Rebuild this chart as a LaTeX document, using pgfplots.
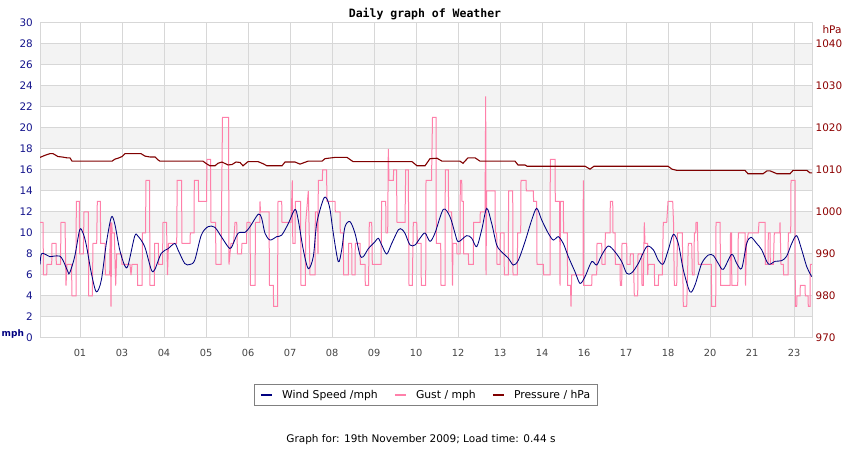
\documentclass[border=0pt]{standalone}
\usepackage{fontspec}
\setmainfont{DejaVu Sans}
\newfontfamily\monofont{DejaVu Sans Mono}
\usepackage{pgfplots}
\pgfplotsset{compat=1.18}
\definecolor{windc}{RGB}{0,0,128}
\definecolor{gustc}{RGB}{255,128,170}
\definecolor{presc}{RGB}{128,0,0}
\definecolor{gridc}{RGB}{215,215,215}
\definecolor{bandc}{RGB}{243,243,243}
\definecolor{ylabc}{RGB}{20,20,140}
\definecolor{rlabc}{RGB}{140,0,0}
\definecolor{xlabc}{RGB}{68,68,68}
\definecolor{legc}{RGB}{128,128,128}
\begin{document}
\begin{tikzpicture}
\begin{axis}[
  set layers,
  at={(40bp,112bp)}, anchor=south west,
  scale only axis, width=772bp, height=315bp,
  xmin=40, xmax=812, ymin=0, ymax=30,
  xtick={80,122,164,206,248,290,332,374,416,458,500,542,584,626,668,710,752,794},
  xticklabels={01,03,04,05,06,07,08,09,10,12,13,14,16,17,18,20,21,23},
  ytick={0,2,...,30},
  yticklabels={0,2,4,6,8,10,12,14,16,18,20,22,24,26,28,30},
  grid=major,
  grid style={color=gridc, line width=1bp},
  axis line style={color=gridc, line width=1bp},
  major tick length=0pt,
  xticklabel style={font=\fontsize{9.8bp}{11bp}\selectfont, text=xlabc, inner sep=0pt, yshift=-11bp},
  yticklabel style={font=\fontsize{10.4bp}{12bp}\selectfont, text=ylabc, inner sep=0pt, xshift=-7bp},
  legend columns=3,
  legend image code/.code={\draw[#1] (0bp,0bp) -- (11bp,0bp);},
  legend style={at={(0.5,-0.181)}, anchor=center, draw=legc, line width=1bp, fill=white,
    inner xsep=5bp, inner ysep=4bp,
    font=\fontsize{10.8bp}{12bp}\selectfont,
    nodes={inner sep=2bp, text depth=0.15em},
    /tikz/every odd column/.append style={column sep=7bp},
    /tikz/every even column/.append style={column sep=14bp}},
]
\addplot[on layer=axis background, fill=bandc, draw=none, forget plot] coordinates {(40,2)(812,2)(812,4)(40,4)};
\addplot[on layer=axis background, fill=bandc, draw=none, forget plot] coordinates {(40,6)(812,6)(812,8)(40,8)};
\addplot[on layer=axis background, fill=bandc, draw=none, forget plot] coordinates {(40,10)(812,10)(812,12)(40,12)};
\addplot[on layer=axis background, fill=bandc, draw=none, forget plot] coordinates {(40,14)(812,14)(812,16)(40,16)};
\addplot[on layer=axis background, fill=bandc, draw=none, forget plot] coordinates {(40,18)(812,18)(812,20)(40,20)};
\addplot[on layer=axis background, fill=bandc, draw=none, forget plot] coordinates {(40,22)(812,22)(812,24)(40,24)};
\addplot[on layer=axis background, fill=bandc, draw=none, forget plot] coordinates {(40,26)(812,26)(812,28)(40,28)};
% Gust
\addplot[gustc, line width=1bp, forget plot] coordinates {
(40,11)(43,11)(43.5,6)(46.7,6)(47,7)(51.7,7)(52,9)(56,9)(56.3,7)(60.5,7)(61,11)(65,11)(66,5)(67,7)(71.5,7)(72,4)(76,4)(76.3,13)(79.3,13)(79.7,8)(83.3,8)(84,12)(88.3,12)(88.7,4)(92.3,4)(93,9)(96.7,9)(97.3,13)(100.3,13)(100.7,9)(105,9)(105.3,6)(109.7,6)(110.3,11)(111,3)(111.7,11)(112.3,10)(114.3,10)(115.7,5)(116.7,8)(121.7,8)(122,7)(130,7)(131,6)(132,7)(137.3,7)(137.7,5)(142,5)(142.5,10)(145.5,10)(146,15)(149.5,15)(150,5)(154.3,5)(154.7,9)(158.3,9)(158.7,7)(162.5,7)(163,11)(166.5,11)(167.5,6)(168.5,9)(176.7,9)(177.2,15)(181.5,15)(182,9)(190,9)(190.3,10)(194,10)(194.3,15)(198.3,15)(198.7,13)(206.5,13)(207,17)(210.5,17)(211,11)(215.5,11)(216,7)(221,7)(222.5,21)(228.5,21)(229,7)(231,9)(233.5,9)(235,11)(236.7,11)(237.5,8)(241.5,8)(242,9)(246.5,9)(247,11)(250,11)(250.5,5)(255,5)(255.5,11)(259.8,11)(260,13)(260.5,12)(269,12)(269.5,5)(273.3,5)(273.6,3)(277.5,3)(278,13)(281.7,13)(282,11)(291,11)(292.3,15)(292.8,9)(295,9)(295.3,13)(300.5,13)(301,5)(305.3,5)(305.7,11)(308.3,14)(309,11)(310,6)(315,6)(315.3,12)(317.5,12)(318,8)(318.3,15)(322.3,15)(322.6,16)(326.5,16)(327,13)(335,13)(335.3,12)(340,12)(340.3,10)(343.3,10)(343.6,6)(348.3,6)(348.6,9)(351.7,9)(352,6)(355,6)(355.3,9)(360,9)(360.3,7)(365,7)(365.3,5)(368.5,5)(369.3,11)(371.7,11)(372.3,7)(381,7)(381.7,13)(385.7,13)(386,10)(387.7,10)(388.3,18)(389,15)(393.3,15)(393.7,16)(396.5,16)(397,11)(405,11)(405.7,16)(408.3,16)(409,5)(412.3,5)(413.3,11)(416.7,11)(417.5,9)(421,9)(421.3,5)(425.7,5)(426,15)(431.5,15)(432.5,21)(436,21)(436.3,9)(440.7,9)(441,5)(445,5)(445.3,16)(448.3,16)(448.6,12)(451.7,12)(452.5,5)(453,9)(456.7,9)(457,8)(460,8)(460.3,15)(461.7,15)(462,13)(463.3,13)(463.6,8)(468.3,8)(468.6,7)(473.3,7)(473.6,11)(480,11)(480.3,12)(485,12)(485.7,23)(486,6)(486.7,14)(495,14)(495.3,10)(496.7,10)(497,7)(500,7)(500.3,10)(504,10)(504.3,6)(508.3,6)(508.6,14)(512.7,14)(513,6)(517.3,6)(517.6,10)(520.7,10)(521,15)(526,15)(526.3,14)(533.3,14)(533.6,13)(536.7,13)(537,7)(543.3,7)(543.6,6)(550,6)(550.3,17)(555,17)(555.3,13)(559.5,13)(560,5)(560.5,13)(563.3,13)(563.6,10)(567.3,10)(567.6,5)(570.5,5)(571,3)(571.7,6)(583,6)(583.3,15)(583.7,5)(591.7,5)(592,6)(596.7,6)(597,9)(601.7,9)(602,7)(605,7)(605.3,10)(610,10)(610.3,13)(612.7,13)(613,10)(615,10)(615.3,7)(620,7)(620.3,5)(621.7,5)(622,9)(626.7,9)(627,7)(630,7)(630.3,8)(633.3,8)(634.3,4)(637.7,4)(638,8)(641.7,8)(642,5)(643.3,5)(644.3,11)(645,9)(647.5,9)(647.7,6)(648.3,7)(654.3,7)(654.6,5)(658.3,5)(658.6,6)(662.3,6)(663.3,11)(666.7,11)(668,13)(672.7,13)(673.5,11)(674.3,5)(676.7,5)(677.5,10)(682.3,10)(683.3,3)(686.7,3)(688.3,9)(691.7,9)(692.3,6)(694,6)(694.3,10)(695.7,10)(696,11)(697.3,11)(698.3,7)(711.3,7)(711.7,3)(715.7,3)(716,11)(720,11)(720.7,5)(730,5)(730.5,10)(731.5,10)(731.8,5)(737.7,5)(738.3,10)(745,10)(745.5,5)(746.5,9)(748.3,10)(758.3,10)(759,11)(765,11)(765.3,7)(768,7)(768.3,10)(770,10)(770.3,7)(773.3,7)(774.3,10)(779.7,10)(780,11)(781,7)(783.3,7)(783.6,6)(788,6)(788.3,10)(790.7,10)(791,15)(795,15)(795.3,3)(796.7,3)(797,4)(800,4)(800.3,5)(805,5)(805.3,4)(808,4)(808.3,3)(810,3)(810.3,7)(812,7)
};
% Wind speed
\addplot[windc, line width=0.85bp, smooth, forget plot] coordinates {
(40,7.0)(41.3,8.0)(44.7,8.0)(49.7,7.75)(54,7.8)(59.7,7.8)(63,7.4)(68,6.3)(69.7,6.2)(74.7,7.75)(79.7,10.3)(83,10.0)(86.3,8.86)(91.3,6.2)(96.3,4.4)(101.3,5.5)(106.3,9.0)(111.3,11.5)(114.7,10.9)(119.7,8.4)(124.7,6.9)(128,6.9)(134.7,9.7)(138,9.7)(144.7,8.7)(151.3,6.5)(154.7,6.5)(161.3,8.07)(168,8.5)(174.7,9.0)(178,8.4)(184.7,7.1)(189.7,7.0)(194.7,7.4)(201.3,9.8)(208,10.6)(214.7,10.55)(221.3,9.65)(228,8.7)(231.3,8.6)(238,9.97)(245,10.06)(250,10.6)(258.3,11.8)(261.7,11.4)(265,9.97)(270,9.33)(276.7,9.65)(281.7,9.8)(288.3,10.9)(295,12.25)(298.3,11.2)(303.3,8.4)(308.3,6.6)(313.3,7.75)(316.7,10.9)(323.3,13.2)(326.7,13.3)(330,12.25)(333.3,9.97)(338.3,7.27)(341.7,8.4)(345,10.6)(350,11.08)(355,9.97)(360,7.9)(363.3,7.75)(368.3,8.5)(375,9.17)(378.3,9.5)(381.7,8.86)(386.7,8.0)(391.7,9.0)(398.3,10.3)(401.7,10.35)(405,9.97)(410,8.86)(415,8.86)(420,9.5)(425,10.0)(430,9.2)(435,10.0)(443.3,12.25)(450,11.55)(455,9.97)(458.3,9.17)(466.7,9.75)(471.7,9.5)(476.7,8.7)(481.7,10.3)(486.7,12.35)(491.7,10.9)(496.7,8.86)(501.7,8.2)(508.3,7.6)(513.3,6.95)(518.3,7.4)(525,9.17)(531.7,11.24)(536.7,12.35)(541.7,11.24)(548.3,9.97)(553.3,9.33)(558.3,9.65)(563.3,9.0)(568.3,7.75)(575,6.3)(580,5.2)(585,5.84)(591.7,7.27)(596.7,6.95)(601.7,7.9)(608.3,8.76)(615,8.2)(621.7,7.27)(626.7,6.16)(631.7,6.2)(638.3,7.1)(646.7,8.7)(653.3,8.4)(658.3,7.4)(663.3,7.05)(668.3,8.4)(673.3,9.87)(678.3,9.0)(683.3,6.5)(690,4.4)(695,5.05)(701.7,7.1)(708.3,7.9)(713.3,7.86)(718.3,7.1)(723.3,6.54)(731.7,7.97)(736.7,7.1)(741.7,6.63)(746.7,9.0)(751,9.59)(756.7,9.0)(761.7,8.4)(768.3,7.05)(775,7.3)(781.7,7.37)(786.7,7.8)(791.7,9.0)(796.7,9.75)(801.7,8.4)(806.7,6.8)(811.7,5.84)
};
\addlegendimage{windc, line width=2.2bp}
\addlegendentry{Wind Speed /mph}
\addlegendimage{gustc, line width=2.2bp}
\addlegendentry{Gust / mph}
\addlegendimage{presc, line width=2.2bp}
\addlegendentry{Pressure / hPa}
\end{axis}
\begin{axis}[
  at={(40bp,112bp)}, anchor=south west,
  scale only axis, width=772bp, height=315bp,
  xmin=40, xmax=812, ymin=970, ymax=1045,
  axis x line=none, axis y line*=right,
  axis line style={color=gridc, line width=1bp},
  ytick={970,980,990,1000,1010,1020,1030,1040},
  yticklabels={970,980,990,1000,1010,1020,1030,1040},
  major tick length=0pt,
  yticklabel style={font=\fontsize{10.4bp}{12bp}\selectfont, text=rlabc, inner sep=0pt, xshift=3.5bp},
]
\addplot[presc, line width=1.1bp] coordinates {
(40,1013.0)(45,1013.5)(50,1013.9)(53,1013.9)(58,1013.2)(62,1013.1)(67,1012.9)(70,1012.9)(72,1012.1)(112,1012.1)(115,1012.6)(118,1012.8)(122,1013.2)(125,1013.9)(141,1013.9)(145,1013.3)(150,1013.1)(155,1013.1)(158,1012.4)(160,1012.1)(203,1012.1)(207,1011.4)(210,1011.0)(215,1011.0)(218,1011.6)(222,1011.9)(228,1011.2)(232,1011.3)(236,1011.9)(240,1011.8)(243,1011.0)(248,1012.0)(258,1012.0)(263,1011.5)(267,1011.0)(282,1011.0)(285,1011.9)(295,1011.9)(300,1011.4)(308,1012.1)(322,1012.1)(325,1012.7)(335,1013.0)(347,1013.0)(353,1012.0)(412,1012.0)(417,1011.0)(425,1011.0)(430,1012.7)(437,1012.8)(442,1012.1)(460,1012.1)(463,1011.6)(468,1012.9)(475,1012.9)(480,1012.1)(515,1012.1)(518,1011.2)(525,1011.2)(527,1010.9)(585,1010.9)(590,1010.2)(594,1010.9)(668,1010.9)(672,1010.2)(677,1009.9)(745,1009.9)(748,1009.1)(763,1009.1)(767,1009.8)(770,1009.8)(777,1009.1)(790,1009.1)(793,1009.9)(807,1009.9)(810,1009.3)(812,1009.3)
};
\end{axis}
\node[font=\monofont\bfseries\fontsize{11.5bp}{13bp}\selectfont, anchor=base] at (425bp,432.7bp) {Daily graph of Weather};
\node[font=\bfseries\fontsize{9bp}{11bp}\selectfont, text=windc, anchor=base west, inner sep=0pt] at (1.5bp,113.5bp) {mph};
\node[font=\fontsize{10.5bp}{12bp}\selectfont, text=rlabc, anchor=base west, inner sep=0pt] at (822.3bp,416.7bp) {hPa};
\node[font=\fontsize{10.5bp}{12bp}\selectfont, anchor=base, inner sep=0pt] at (421bp,7.3bp) {Graph for: 19th November 2009; Load time: 0.44 s};
\pgfresetboundingbox
\useasboundingbox (0,0) rectangle (850bp,450bp);
\end{tikzpicture}
\end{document}
